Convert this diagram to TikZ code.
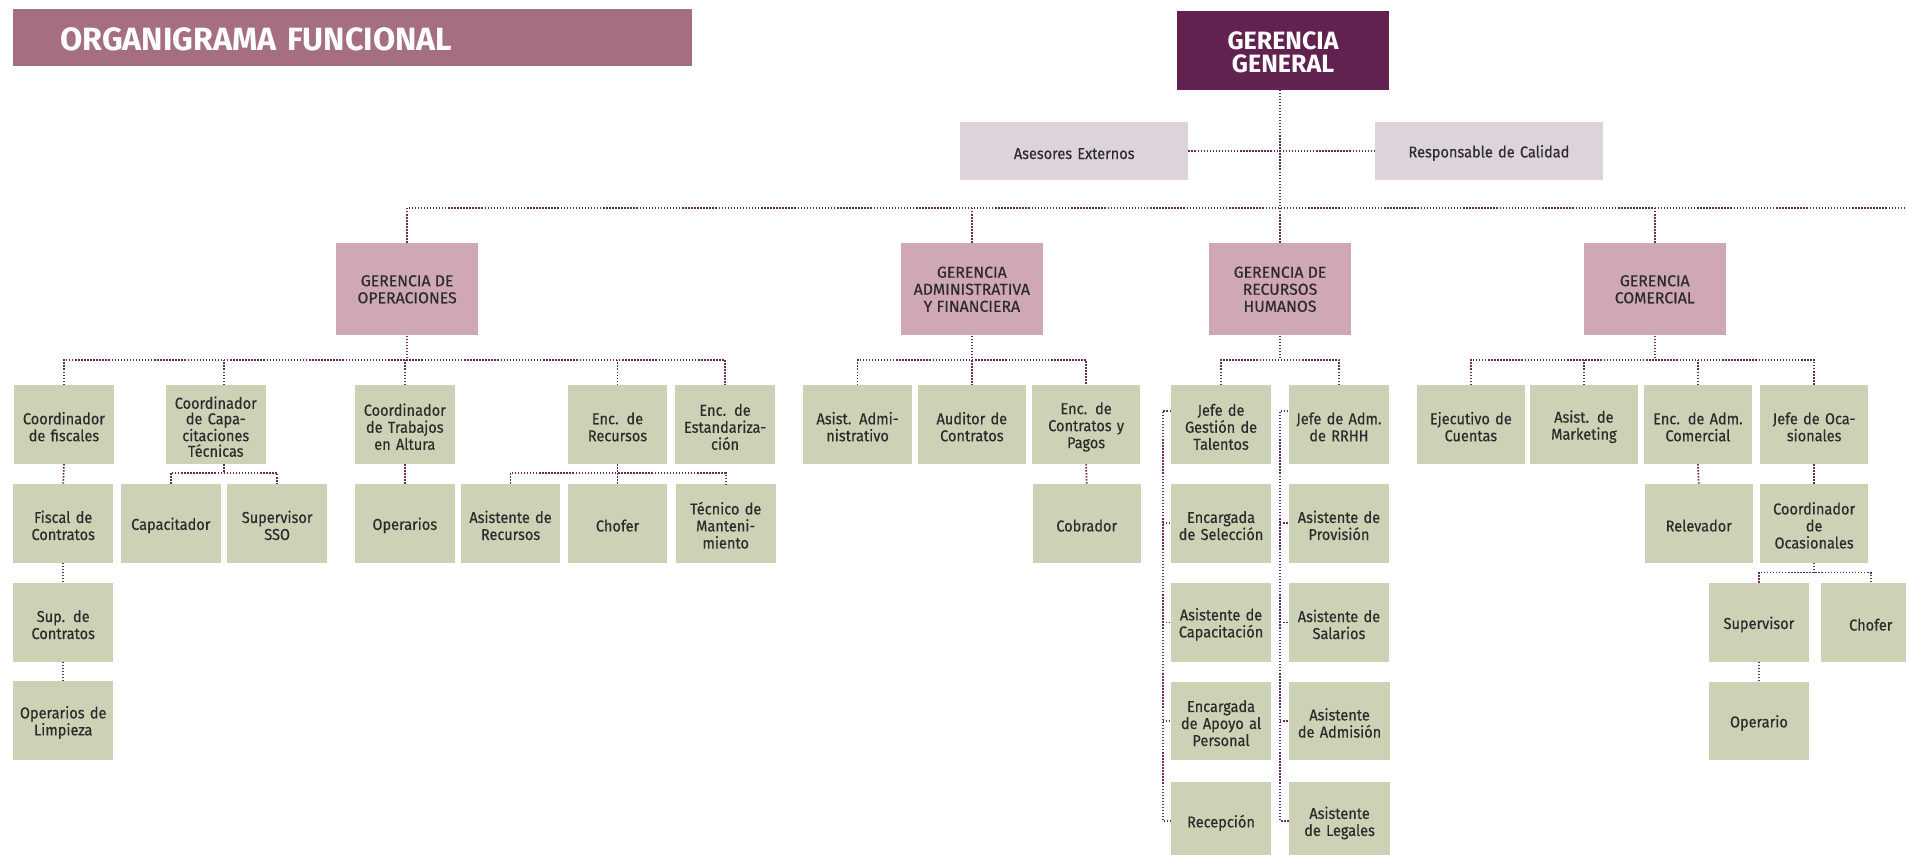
\documentclass[tikz,border=0pt]{standalone}
\usepackage{fontspec}
\setmainfont{Fira Sans}[FakeStretch=0.92, FakeBold=0.3]
\newfontfamily\widefont{Fira Sans}[FakeBold=0.3]
\newfontfamily\headfont{Fira Sans}
\definecolor{titlebg}{HTML}{A66F80}
\definecolor{ggbg}{HTML}{62224F}
\definecolor{lightbg}{HTML}{DDD3DA}
\definecolor{pinkbg}{HTML}{CFA8B3}
\definecolor{greenbg}{HTML}{CDD1B5}
\definecolor{linec}{HTML}{6B2B5E}
\definecolor{txt}{HTML}{2B2B2B}
\tikzset{
  base/.style={rectangle, inner sep=0pt, align=center, text=txt, font=\fontsize{13}{14}\selectfont},
  gbox/.style={base, fill=greenbg, minimum width=82, minimum height=64.5, text width=82, execute at begin node={\rule{0pt}{13.6pt}}},
  gwide/.style={gbox, minimum width=89, text width=89},
  pbox/.style={base, fill=pinkbg, minimum width=116.5, minimum height=76, font=\widefont\fontsize{13}{14}\selectfont},
  lbox/.style={base, fill=lightbg, minimum width=187.5, minimum height=47.4, text width=187.5, execute at begin node={\rule{0pt}{13.6pt}}},
  ggbox/.style={base, fill=ggbg, minimum width=174.3, minimum height=64.8, text width=174.3, text=white, font=\headfont\fontsize{20.6}{18.6}\selectfont\bfseries, execute at begin node={\rule{0pt}{18.2pt}}},
  titlebar/.style={rectangle, fill=titlebg, minimum height=46.6, text width=480.4, inner xsep=39, inner ysep=0pt, align=left, text=white, font=\headfont\fontsize{26.5}{28}\selectfont\bfseries, execute at begin node={\rule{0pt}{22.3pt}}},
  conn/.style={draw=linec, line width=1.4pt, dash pattern=on 1.2pt off 1.3pt},
}
\begin{document}
\begin{tikzpicture}[x=1pt,y=-1pt]
\clip (0,0) rectangle (1568,703);
% title and top
\node[titlebar] (title) at (289.8,30.7) {ORGANIGRAMA FUNCIONAL};
\node[ggbox] (gg) at (1055.5,41.4) {GERENCIA\\GENERAL};
\node[lbox] (ase) at (883.7,124.1) {Asesores Externos};
\node[lbox] (rcal) at (1224.9,124.1) {Responsable de Calidad};
% level 2
\node[pbox] (gops) at (334.9,238) {GERENCIA DE\\OPERACIONES};
\node[pbox] (gadm) at (799.5,238) {GERENCIA\\ADMINISTRATIVA\\Y FINANCIERA};
\node[pbox] (grh) at (1053,238) {GERENCIA DE\\RECURSOS\\HUMANOS};
\node[pbox] (gcom) at (1361.3,238) {GERENCIA\\COMERCIAL};
% operaciones
\node[gbox] (cfis) at (52.6,349.3) {Coordinador\\de fiscales};
\node[gbox, font=\fontsize{13}{12.8}\selectfont] (ccap) at (177.5,349.3) {Coordinador\\de Capa-\\citaciones\\Técnicas};
\node[gbox] (ctra) at (333,349.3) {Coordinador\\de Trabajos\\en Altura};
\node[gbox] (cenr) at (508,349.3) {Enc. de\\Recursos};
\node[gbox] (cest) at (596.5,349.3) {Enc. de\\Estandariza-\\ción};
\node[gbox] (fisc) at (52,430.5) {Fiscal de\\Contratos};
\node[gbox] (capa) at (140.5,430.5) {Capacitador};
\node[gbox] (sso) at (228,430.5) {Supervisor\\SSO};
\node[gbox] (oper) at (333,430.5) {Operarios};
\node[gbox] (asr) at (420,430.5) {Asistente de\\Recursos};
\node[gbox] (chof1) at (508,430.5) {Chofer};
\node[gbox] (tec) at (597,430.5) {Técnico de\\Manteni-\\miento};
\node[gbox] (supc) at (52,512) {Sup. de\\Contratos};
\node[gbox] (opl) at (52,592.6) {Operarios de\\Limpieza};
% administrativa
\node[gwide] (asad) at (705.5,349.3) {Asist. Admi-\\nistrativo};
\node[gwide] (aud) at (799.5,349.3) {Auditor de\\Contratos};
\node[gwide] (ecp) at (893.5,349.3) {Enc. de\\Contratos y\\Pagos};
\node[gwide] (cob) at (894,430.5) {Cobrador};
% rrhh
\node[gbox] (jgt) at (1004.5,349.3) {Jefe de\\Gestión de\\Talentos};
\node[gbox] (esel) at (1004.5,430.5) {Encargada\\de Selección};
\node[gbox] (acap) at (1004.5,512) {Asistente de\\Capacitación};
\node[gbox] (eapo) at (1004.5,593) {Encargada\\de Apoyo al\\Personal};
\node[gbox] (rec) at (1004.5,675.3) {Recepción};
\node[gbox, minimum width=83] (jar) at (1101.5,349.3) {Jefe de Adm.\\de RRHH};
\node[gbox, minimum width=83] (apro) at (1101.5,430.5) {Asistente de\\Provisión};
\node[gbox, minimum width=83] (asal) at (1101.5,512) {Asistente de\\Salarios};
\node[gbox, minimum width=83] (aadm) at (1102,593) {Asistente\\de Admisión};
\node[gbox, minimum width=83] (aleg) at (1102,675.3) {Asistente\\de Legales};
% comercial
\node[gwide] (ejc) at (1210,349.3) {Ejecutivo de\\Cuentas};
\node[gwide] (amk) at (1303,349.3) {Asist. de\\Marketing};
\node[gwide] (eac) at (1396.8,349.3) {Enc. de Adm.\\Comercial};
\node[gwide] (joc) at (1492.4,349.3) {Jefe de Oca-\\sionales};
\node[gwide] (rel) at (1397.5,430.5) {Relevador};
\node[gwide] (coc) at (1492.4,430.5) {Coordinador\\de\\Ocasionales};
\node[gbox] (sup2) at (1447,512) {Supervisor};
\node[gbox] (chof2) at (1539,512) {Chofer};
\node[gbox] (opr) at (1447,593) {Operario};
% bus coordinates
\coordinate (busT) at (0,171);
\coordinate (edge) at (1568,171);
\coordinate (busA) at (0,296);
\coordinate (busB) at (0,389);
\coordinate (busC) at (0,471);
\coordinate (lt) at (956.5,338);
\coordinate (rt) at (1053,338);
% top connectors
\draw[conn] (grh.north) -- (grh.north |- gg.south);
\draw[conn] (ase.east) -- (rcal.west);
\draw[conn] (gops.north) |- (edge);
\draw[conn] (gadm.north) -- (gadm.north |- busT);
\draw[conn] (gcom.north) -- (gcom.north |- busT);
% operaciones connectors
\draw[conn] (gops.south) -- (gops.south |- busA);
\draw[conn] (cfis.north) |- (gops.south |- busA) -| (cest.north);
\draw[conn] ([xshift=6.5pt]ccap.north) -- ([xshift=6.5pt]ccap.north |- busA);
\draw[conn] (ctra.north) -- (ctra.north |- busA);
\draw[conn] (cenr.north) -- (cenr.north |- busA);
\draw[conn] (cfis.south) -- (fisc.north);
\draw[conn] (fisc.south) -- (supc.north);
\draw[conn] (supc.south) -- (opl.north);
\draw[conn] ([xshift=6.5pt]ccap.south) -- ([xshift=6.5pt]ccap.south |- busB);
\draw[conn] (capa.north) |- ([xshift=6.5pt]ccap.south |- busB) -| (sso.north);
\draw[conn] (ctra.south) -- (oper.north);
\draw[conn] (cenr.south) -- (chof1.north);
\draw[conn] (asr.north) |- (cenr.south |- busB) -| (tec.north);
% administrativa connectors
\draw[conn] (gadm.south) -- (aud.north);
\draw[conn] (asad.north) |- (gadm.south |- busA) -| (ecp.north);
\draw[conn] (ecp.south) -- (cob.north);
% rrhh connectors
\draw[conn] (grh.south) -- (grh.south |- busA);
\draw[conn] (jgt.north) |- (grh.south |- busA) -| (jar.north);
\draw[conn] (jgt.west |- lt) -- (lt) |- (rec.west);
\draw[conn] (lt |- esel.west) -- (esel.west);
\draw[conn] (lt |- acap.west) -- (acap.west);
\draw[conn] (lt |- eapo.west) -- (eapo.west);
\draw[conn] (jar.west |- rt) -- (rt) |- (aleg.west);
\draw[conn] (rt |- apro.west) -- (apro.west);
\draw[conn] (rt |- asal.west) -- (asal.west);
\draw[conn] (rt |- aadm.west) -- (aadm.west);
% comercial connectors
\draw[conn] (gcom.south) -- (gcom.south |- busA);
\draw[conn] (ejc.north) |- (gcom.south |- busA) -| (joc.north);
\draw[conn] (amk.north) -- (amk.north |- busA);
\draw[conn] (eac.north) -- (eac.north |- busA);
\draw[conn] (eac.south) -- (rel.north);
\draw[conn] (joc.south) -- (coc.north);
\draw[conn] (coc.south) -- (coc.south |- busC);
\draw[conn] (sup2.north) |- (coc.south |- busC) -| (chof2.north);
\draw[conn] (sup2.south) -- (opr.north);
\end{tikzpicture}
\end{document}
